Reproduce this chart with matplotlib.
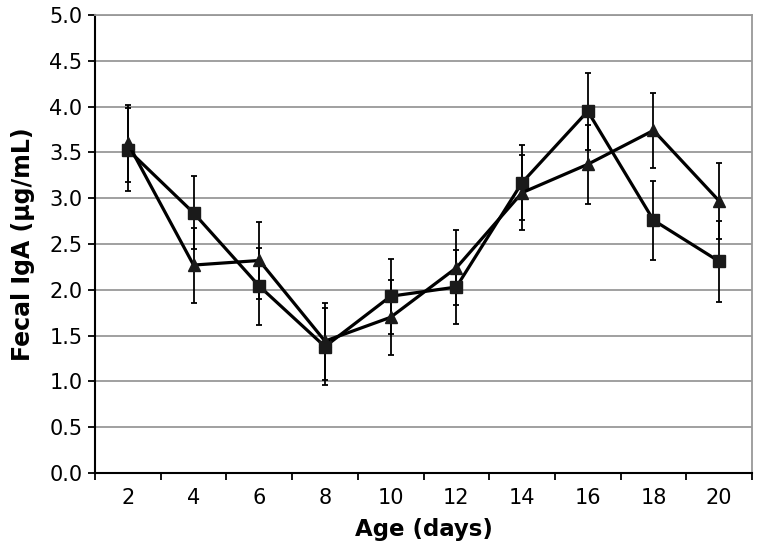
import matplotlib
matplotlib.use("Agg")
import matplotlib.pyplot as plt
import numpy as np

days = ["2", "4", "6", "8", "10", "12", "14", "16", "18", "20"]
square_vals = [3.53, 2.84, 2.04, 1.38, 1.93, 2.03, 3.17, 3.95, 2.76, 2.31]
square_err = [0.45, 0.40, 0.42, 0.42, 0.41, 0.40, 0.41, 0.42, 0.43, 0.44]
triangle_vals = [3.60, 2.27, 2.32, 1.44, 1.70, 2.24, 3.06, 3.37, 3.74, 2.97]
triangle_err = [0.42, 0.41, 0.42, 0.42, 0.41, 0.41, 0.41, 0.43, 0.41, 0.41]
yticks = [0.0, 0.5, 1.0, 1.5, 2.0, 2.5, 3.0, 3.5, 4.0, 4.5, 5.0]

plt.rcParams['font.family'] = ['DejaVu Sans']

fig = plt.figure(figsize=(7.58, 5.51), dpi=100)
ax = fig.add_axes([95/758, 1 - 473/551, (752-95)/758, (473-15)/551])

x = np.arange(len(days))
for vals, errs, mk in [(square_vals, square_err, 's'), (triangle_vals, triangle_err, '^')]:
    ax.errorbar(x, vals, yerr=errs, fmt='none', ecolor='black', elinewidth=1.3,
                capsize=2.5, capthick=1.3, zorder=3)
    ax.plot(x, vals, color='black', linewidth=2.3, marker=mk, markersize=8.5,
            markerfacecolor='#1a1a1a', markeredgecolor='#1a1a1a', zorder=4)

ax.set_xlim(-0.5, len(days) - 0.5)
ax.set_ylim(0, 5)
ax.set_yticks(yticks)
ax.set_yticklabels([f"{v:.1f}" for v in yticks], fontsize=15)
ax.yaxis.grid(True, color='#999999', linewidth=1.3)
ax.set_axisbelow(True)

ax.set_xticks(x)
ax.set_xticklabels(days, fontsize=15)
ax.set_xticks(np.arange(-0.5, len(days)), minor=True)
ax.tick_params(axis='x', which='major', length=0, pad=11)
ax.tick_params(axis='x', which='minor', length=5, width=1.3, direction='out')
ax.tick_params(axis='y', length=5, width=1.3, direction='out', pad=4)

for s in ['left', 'bottom']:
    ax.spines[s].set_color('black')
    ax.spines[s].set_linewidth(1.5)
for s in ['top', 'right']:
    ax.spines[s].set_color('#999999')
    ax.spines[s].set_linewidth(1.3)

ax.set_xlabel("Age (days)", fontsize=16.5, fontweight='bold', labelpad=7)
ax.set_ylabel("Fecal IgA (µg/mL)", fontsize=17, fontweight='bold', labelpad=10)

fig.savefig("out.png", dpi=100)
